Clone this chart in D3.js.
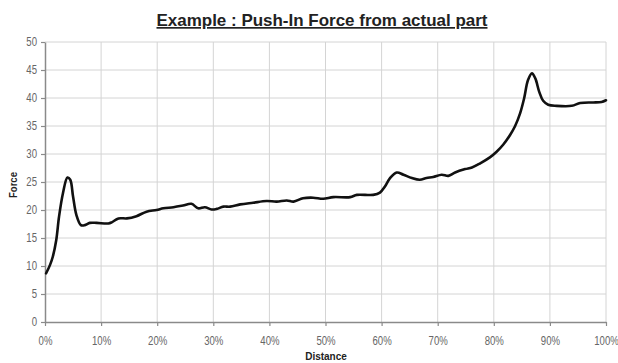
<!DOCTYPE html>
<html>
<head>
<meta charset="utf-8">
<script src="https://cdn.jsdelivr.net/npm/d3@7"></script>
<style>
  html, body { margin: 0; padding: 0; background: #fff; }
  svg { display: block; }
</style>
</head>
<body>
<svg id="chart" width="618" height="363"></svg>
<script>
// ---- Data ----
const title = "Example : Push-In Force from actual part";
const xLabel = "Distance";
const yLabel = "Force";
const xTicks = [0, 10, 20, 30, 40, 50, 60, 70, 80, 90, 100];
const yTicks = [0, 5, 10, 15, 20, 25, 30, 35, 40, 45, 50];
const distance = [
  0.2, 0.9, 1.4, 2.0, 2.5, 3.2, 4.0, 4.5, 5.0, 5.6, 6.4, 7.1, 8.0, 9.2, 11.3, 11.9,
  13.1, 14.6, 16.3, 18.1, 19.9, 21.1, 22.9, 24.6, 26.1, 27.3, 28.5, 29.7, 30.6, 31.8,
  33.0, 34.8, 37.1, 39.5, 41.3, 43.1, 44.3, 46.0, 47.8, 49.6, 51.4, 54.4, 55.6, 58.5,
  59.7, 60.6, 61.5, 62.7, 63.9, 65.4, 66.8, 68.0, 69.2, 70.7, 71.9, 73.1, 74.9, 76.1,
  77.5, 79.3, 80.5, 81.7, 82.9, 83.8, 84.7, 85.4, 86.1, 86.8, 87.4, 88.1, 88.8, 89.7,
  91.2, 93.9, 95.4, 97.7, 99.2, 100
];
const force = [
  8.7, 10.2, 11.7, 14.6, 18.8, 23.0, 25.8, 25.4, 22.4, 19.1, 17.3, 17.3, 17.7, 17.7, 17.6, 17.8,
  18.5, 18.5, 18.9, 19.7, 20.0, 20.3, 20.5, 20.8, 21.1, 20.3, 20.5, 20.1, 20.2, 20.6,
  20.6, 21.0, 21.3, 21.6, 21.5, 21.7, 21.5, 22.1, 22.2, 22.0, 22.3, 22.3, 22.7, 22.7,
  23.1, 24.2, 25.7, 26.7, 26.3, 25.7, 25.4, 25.7, 25.9, 26.3, 26.1, 26.7, 27.3, 27.6,
  28.3, 29.4, 30.4, 31.7, 33.4, 35.0, 37.3, 39.9, 43.2, 44.4, 43.5, 41.1, 39.5, 38.8,
  38.6, 38.6, 39.1, 39.2, 39.3, 39.6
];

// ---- Layout ----
const svg = d3.select("#chart");
const plotLeft = 45, plotRight = 606, plotTop = 42, plotBottom = 322;

const x = d3.scaleLinear().domain([0, 100]).range([plotLeft, plotRight]);
const y = d3.scaleLinear().domain([0, 50]).range([plotBottom, plotTop]);

const gridColor = "#d4d4d4";
const axisColor = "#8a8a8a";
const labelColor = "#666";
const condense = 0.8;

// Grid lines
svg.append("g").selectAll("line").data(yTicks.filter(d => d > 0)).join("line")
  .attr("x1", plotLeft).attr("x2", plotRight)
  .attr("y1", d => y(d)).attr("y2", d => y(d))
  .attr("stroke", gridColor).attr("stroke-width", 1);
svg.append("g").selectAll("line").data(xTicks.filter(d => d > 0)).join("line")
  .attr("x1", d => x(d)).attr("x2", d => x(d))
  .attr("y1", plotTop).attr("y2", plotBottom)
  .attr("stroke", gridColor).attr("stroke-width", 1);

// Axes
const xAxis = svg.append("g")
  .attr("transform", `translate(0,${plotBottom})`)
  .call(d3.axisBottom(x).tickValues(xTicks).tickFormat(d => d + "%").tickSize(4).tickSizeOuter(0));
const yAxis = svg.append("g")
  .attr("transform", `translate(${plotLeft},0)`)
  .call(d3.axisLeft(y).tickValues(yTicks).tickSize(4).tickSizeOuter(0));

[xAxis, yAxis].forEach(g => {
  g.select(".domain").attr("stroke", axisColor).attr("stroke-width", 1.5);
  g.selectAll(".tick line").attr("stroke", axisColor).attr("stroke-width", 1.2);
  g.selectAll(".tick text")
    .attr("fill", labelColor)
    .style("font-family", "'Liberation Sans', Arial, sans-serif")
    .style("font-size", "12px");
});
xAxis.selectAll(".tick text").attr("y", 14).attr("dy", "0.71em").attr("transform", `scale(${condense},1)`);
yAxis.selectAll(".tick text").attr("x", -8 / condense).attr("transform", `scale(${condense},1)`);

// Line
const line = d3.line()
  .x((d, i) => x(distance[i]))
  .y(d => y(d))
  .curve(d3.curveCatmullRom.alpha(0.5));
svg.append("path")
  .datum(force)
  .attr("d", line)
  .attr("fill", "none")
  .attr("stroke", "#111")
  .attr("stroke-width", 2.6)
  .attr("stroke-linejoin", "round")
  .attr("stroke-linecap", "round");

// Title
svg.append("text")
  .attr("x", 322).attr("y", 26)
  .attr("text-anchor", "middle")
  .attr("textLength", 331).attr("lengthAdjust", "spacingAndGlyphs")
  .style("font-family", "'Liberation Sans', Arial, sans-serif")
  .style("font-weight", "bold")
  .style("font-size", "17px")
  .style("text-decoration", "underline")
  .attr("fill", "#222")
  .text(title);

// Axis labels
svg.append("text")
  .attr("x", 326).attr("y", 360)
  .attr("text-anchor", "middle")
  .style("font-family", "'Liberation Sans', Arial, sans-serif")
  .style("font-weight", "bold")
  .style("font-size", "10px")
  .attr("fill", "#222")
  .text(xLabel);

svg.append("text")
  .attr("transform", "translate(17,185) rotate(-90)")
  .attr("text-anchor", "middle")
  .attr("textLength", 26).attr("lengthAdjust", "spacingAndGlyphs")
  .style("font-family", "'Liberation Sans', Arial, sans-serif")
  .style("font-weight", "bold")
  .style("font-size", "11px")
  .attr("fill", "#222")
  .text(yLabel);
</script>
</body>
</html>
